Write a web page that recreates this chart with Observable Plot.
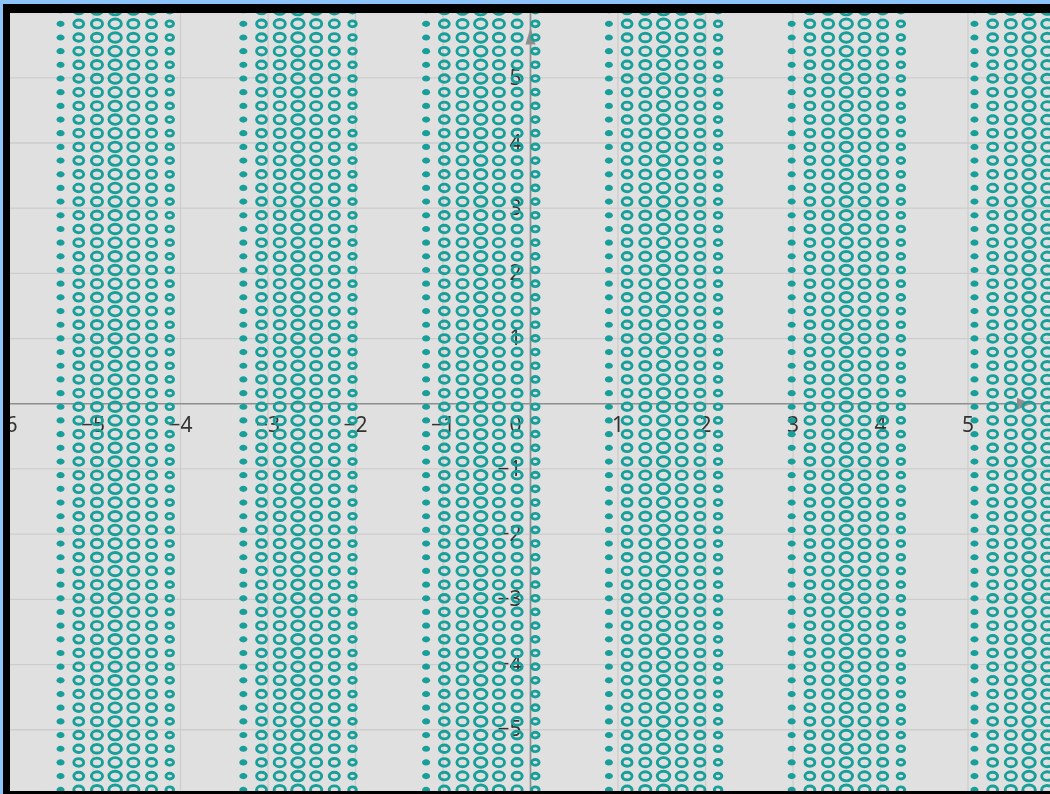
<!DOCTYPE html>
<html>
<head>
<meta charset="utf-8">
<script src="https://cdn.jsdelivr.net/npm/d3@7"></script>
<script src="https://cdn.jsdelivr.net/npm/@observablehq/plot@0.6"></script>
<style>
  html, body { margin: 0; padding: 0; background: #8cc3f8; width: 1050px; height: 794px; overflow: hidden; }
  #frame { position: absolute; left: 3px; top: 4px; width: 1040px; height: 778px;
           border-left: 7px solid #000; border-top: 9px solid #000; border-bottom: 3px solid #000; overflow: hidden; background: #e0e0e0; }
  #frame svg { display: block; overflow: hidden; filter: blur(0.35px); }
</style>
</head>
<body>
<div id="frame"></div>
<script>
// Column x positions of the point lattice (6 bands of 7 columns)
const columnX = [
  -5.371, -5.163, -4.955, -4.747, -4.539, -4.331, -4.123,
  -3.282, -3.074, -2.866, -2.658, -2.450, -2.242, -2.034,
  -1.193, -0.985, -0.777, -0.569, -0.361, -0.153,  0.055,
   0.896,  1.104,  1.312,  1.520,  1.728,  1.936,  2.144,
   2.985,  3.193,  3.401,  3.609,  3.817,  4.025,  4.233,
   5.074,  5.282,  5.490,  5.698,  5.906,  6.114,  6.322
];
// Row y positions of the point lattice
const rowY = [
   6.038,  5.828,  5.618,  5.408,  5.199,  4.989,  4.779,  4.569,  4.359,  4.150,
   3.940,  3.730,  3.520,  3.310,  3.101,  2.891,  2.681,  2.471,  2.261,  2.052,
   1.842,  1.632,  1.422,  1.212,  1.003,  0.793,  0.583,  0.373,  0.163, -0.046,
  -0.256, -0.466, -0.676, -0.886, -1.095, -1.305, -1.515, -1.725, -1.935, -2.144,
  -2.354, -2.564, -2.774, -2.984, -3.193, -3.403, -3.613, -3.823, -4.033, -4.242,
  -4.452, -4.662, -4.872, -5.082, -5.291, -5.501, -5.711, -5.921
];
const xTicks = [-6, -5, -4, -3, -2, -1, 1, 2, 3, 4, 5, 6];
const yTicks = [-5, -4, -3, -2, -1, 1, 2, 3, 4, 5];
const gridX = [-6, -5, -4, -3, -2, -1, 1, 2, 3, 4, 5, 6];
const gridY = [-6, -5, -4, -3, -2, -1, 1, 2, 3, 4, 5, 6];

// build lattice table
const points = [];
columnX.forEach((x, i) => rowY.forEach(y => points.push({x, y, col: i % 7})));

const fmt = v => (v < 0 ? "\u2212" + Math.abs(v) : String(v));

// ellipse symbol (screen is stretched horizontally)
const ellipse = {
  draw(ctx, size) {
    const ry = Math.sqrt(size / Math.PI), rx = ry * 1.3, k = 0.5523;
    ctx.moveTo(rx, 0);
    ctx.bezierCurveTo(rx, k * ry, k * rx, ry, 0, ry);
    ctx.bezierCurveTo(-k * rx, ry, -rx, k * ry, -rx, 0);
    ctx.bezierCurveTo(-rx, -k * ry, -k * rx, -ry, 0, -ry);
    ctx.bezierCurveTo(k * rx, -ry, rx, -k * ry, rx, 0);
    ctx.closePath();
  }
};
const arrowUp = { draw(ctx) { ctx.moveTo(0, 0); ctx.lineTo(5, 17); ctx.lineTo(-5, 17); ctx.closePath(); } };
const arrowRight = { draw(ctx) { ctx.moveTo(0, 0); ctx.lineTo(-14, -6); ctx.lineTo(-14, 6); ctx.closePath(); } };

const teal = "#189f99";
// per-column style: [radius(y), filled]
const colStyle = [
  {r: 3.1, fill: true},
  {r: 3.8}, {r: 4.3}, {r: 4.8}, {r: 4.3}, {r: 3.9}, {r: 2.9}
];

const dotMarks = colStyle.map((s, c) => Plot.dot(points.filter(d => d.col === c), {
  x: "x", y: "y", r: s.r, symbol: ellipse,
  fill: s.fill ? teal : "none",
  stroke: s.fill ? "none" : teal,
  strokeWidth: 2.9
}));

const textStyle = {fontSize: 21, fill: "#333", fontFamily: "Noto Sans, DejaVu Sans, sans-serif"};

const chart = Plot.plot({
  width: 1040,
  height: 778,
  margin: 0,
  x: {domain: [-5.943, 5.943], axis: null},
  y: {domain: [-5.947, 5.986], axis: null},
  style: {background: "#e0e0e0", overflow: "hidden"},
  marks: [
    Plot.ruleX(gridX, {stroke: "#cdcdcd", strokeWidth: 1.3}),
    Plot.ruleY(gridY, {stroke: "#cdcdcd", strokeWidth: 1.3}),
    Plot.ruleX([0], {stroke: "#8e8e8e", strokeWidth: 1.7}),
    Plot.ruleY([0], {stroke: "#8e8e8e", strokeWidth: 1.7}),
    Plot.dot([{x: 0, y: 5.77}], {x: "x", y: "y", symbol: arrowUp, r: 5, fill: "#8e8e8e"}),
    Plot.dot([{x: 5.72, y: 0}], {x: "x", y: "y", symbol: arrowRight, r: 5, fill: "#8e8e8e"}),
    Plot.text(xTicks, {x: d => d, y: 0, text: fmt, dy: 21, textAnchor: "middle", ...textStyle}),
    Plot.text(yTicks, {x: 0, y: d => d, text: fmt, dx: -9, textAnchor: "end", ...textStyle}),
    Plot.text([0], {x: 0, y: 0, text: d => "0", dx: -9, dy: 21, textAnchor: "end", ...textStyle}),
    ...dotMarks
  ]
});
document.getElementById("frame").appendChild(chart);
</script>
</body>
</html>
